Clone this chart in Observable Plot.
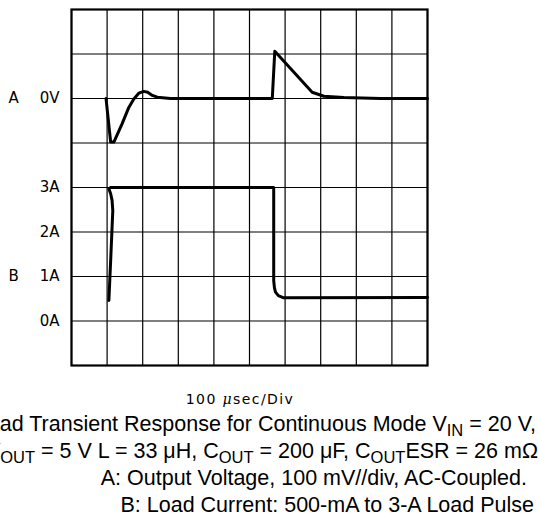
<!DOCTYPE html>
<html><head><meta charset="utf-8">
<script src="https://cdn.jsdelivr.net/npm/d3@7"></script>
<script src="https://cdn.jsdelivr.net/npm/@observablehq/plot@0.6"></script>
<style>
body{margin:0;width:539px;height:525px;overflow:hidden;background:#fff;position:relative}
#rule{position:absolute;left:0;top:1px;width:539px;height:1.5px;background:#000}
#chart{position:absolute;left:0;top:0}
#over{position:absolute;left:0;top:0}
</style></head>
<body>
<div id="rule"></div>
<div id="chart"></div>
<script>
// Channel A: output voltage (mV, AC-coupled) vs time (µs)
const timeA = [97, 110, 119, 142, 161, 175, 189, 203, 214, 227, 241, 278, 564, 571, 676, 709, 765, 868, 1000];
const voltA = [0, -98, -98, -57, -20, -1, 12, 16, 14, 7, 3, 0, 0, 106, 14, 5, 2, 0, 0];
// Channel B: load current (A) vs time (µs)
const timeB = [105, 110, 114, 116, 114, 110, 105, 110, 568, 568, 570, 573, 581, 596, 1000];
const currB = [0.46, 1.36, 2.11, 2.48, 2.71, 2.86, 2.97, 3.0, 3.0, 0.91, 0.75, 0.65, 0.57, 0.52, 0.53];
// Screen layout: 10 x 8 divisions, 100 µs/div
const xGrid = [0,100,200,300,400,500,600,700,800,900,1000];
const yGrid = [0,1,2,3,4,5,6,7,8];
// channel placement on the graticule
const zeroA = 6, mVperDiv = 100;
const zeroB = 1, AperDiv = 1;
const yTickDivs = [6, 4, 3, 2, 1];
const yTickLabels = ["0V", "3A", "2A", "1A", "0A"];
const channelNames = ["A", "B"];
const channelDivs = [6, 2];
const captionLines = [
  [["Load Transient Response for Continuous Mode V"],["IN",1],[" = 20 V,"]],
  [["V"],["OUT",1],[" = 5 V L = 33 μH, C"],["OUT",1],[" = 200 μF, C"],["OUT",1],["ESR = 26 mΩ"]],
  [["A: Output Voltage, 100 mV//div, AC-Coupled."]],
  [["B: Load Current: 500-mA to 3-A Load Pulse"]]
];

const dataA = timeA.map((t,i)=>({t, d: zeroA + voltA[i]/mVperDiv}));
const dataB = timeB.map((t,i)=>({t, d: zeroB + currB[i]/AperDiv}));
const labelData = channelNames.map((n,i)=>({n, d: channelDivs[i]}));

const chart = Plot.plot({
  width: 539, height: 375,
  marginLeft: 71, marginRight: 112, marginTop: 9, marginBottom: 10,
  style: {fontFamily: "DejaVu Sans, sans-serif", fontSize: "15px", color: "#000", background: "#fff"},
  x: {domain: [0, 1000], axis: null},
  y: {domain: [0, 8], axis: null},
  marks: [
    Plot.gridX(xGrid, {stroke: "#000", strokeOpacity: 1, strokeWidth: 1.2}),
    Plot.gridY(yGrid, {stroke: "#000", strokeOpacity: 1, strokeWidth: 1.2}),
    Plot.frame({stroke: "#000", strokeWidth: 2.2}),
    Plot.axisY(yTickDivs, {tickSize: 0, tickPadding: 12, tickFormat: (d) => yTickLabels[yTickDivs.indexOf(d)], fontSize: 15, letterSpacing: "1px", label: null}),
    Plot.text(labelData, {y: "d", text: "n", frameAnchor: "left", dx: -63, textAnchor: "start", fontSize: 15}),
    Plot.line(dataA, {x: "t", y: "d", stroke: "#000", strokeWidth: 3, strokeLinejoin: "round", strokeLinecap: "round"}),
    Plot.line(dataB, {x: "t", y: "d", stroke: "#000", strokeWidth: 3, strokeLinejoin: "round", strokeLinecap: "round"})
  ]
});
document.getElementById("chart").appendChild(chart);

// overlay text: time-base label and caption lines
const svg = d3.select("body").append("svg").attr("id","over").attr("width",539).attr("height",525);
const xl = svg.append("text").attr("x",240).attr("y",404).attr("text-anchor","middle")
  .style("font-family","DejaVu Sans, sans-serif").style("font-size","14px").style("letter-spacing","1.4px");
xl.append("tspan").text("100 ");
xl.append("tspan").style("font-style","italic").style("font-family","DejaVu Serif, serif").text("μ");
xl.append("tspan").text("sec/Div");
const rights = [536, 538, 527, 534];
const bases = [431, 458, 485, 512];
captionLines.forEach((parts, i) => {
  const tx = svg.append("text").attr("x", rights[i]).attr("y", bases[i]).attr("text-anchor","end")
    .style("font-family","Liberation Sans, Arial, sans-serif").style("font-size","21.5px");
  let prevSub = false;
  parts.forEach(([s, sub]) => {
    const sp = tx.append("tspan").text(s);
    if (sub) sp.style("font-size","16.5px");
    if (sub && !prevSub) sp.attr("dy", 5);
    else if (!sub && prevSub) sp.attr("dy", -5);
    prevSub = !!sub;
  });
});
</script>
</body></html>
